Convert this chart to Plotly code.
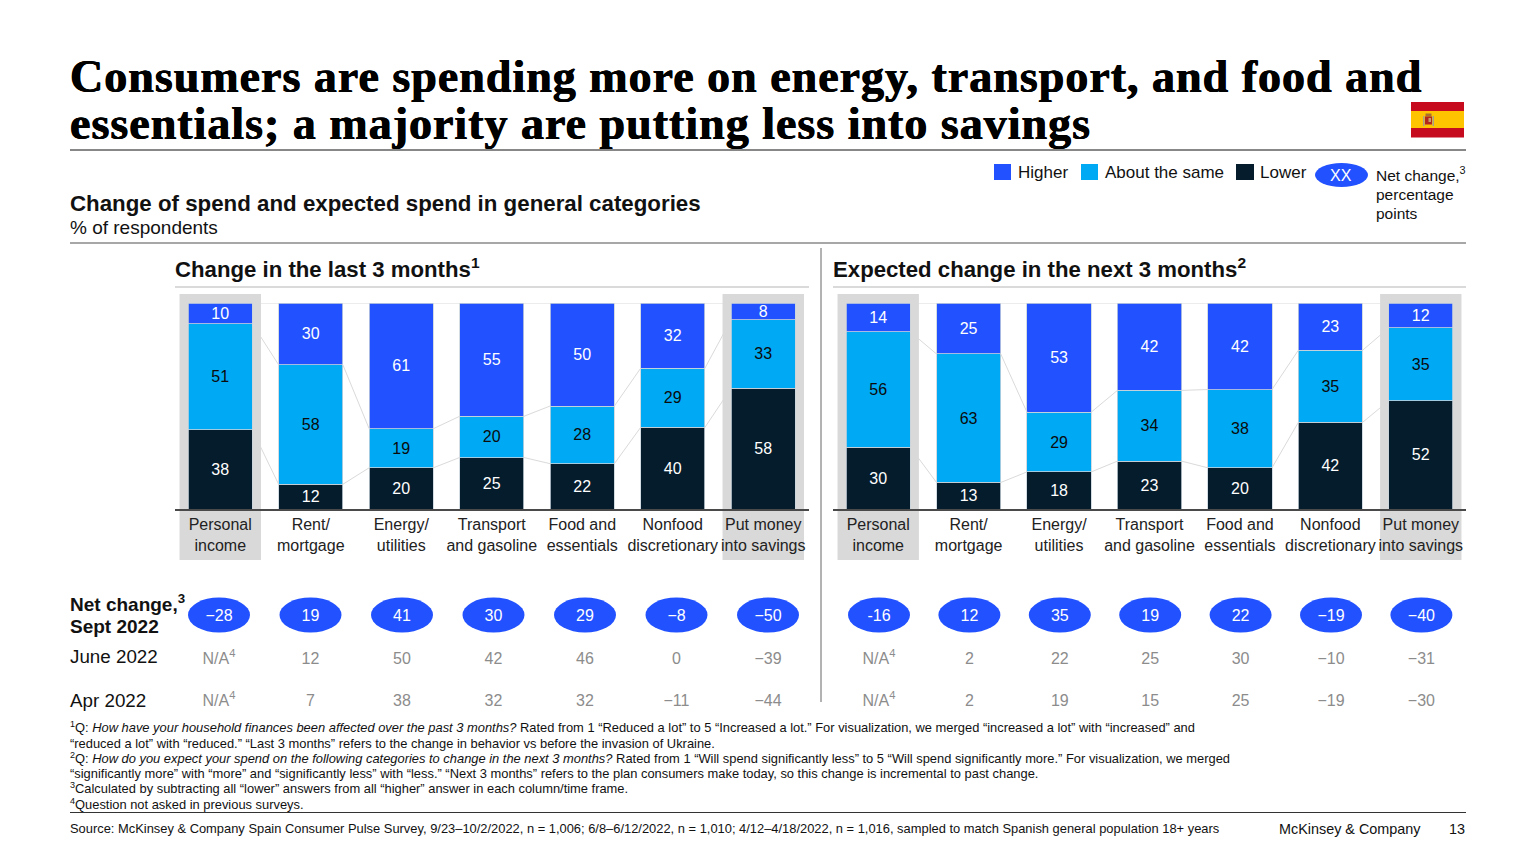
import plotly.graph_objects as go

categories = ["Personal<br>income", "Rent/<br>mortgage", "Energy/<br>utilities", "Transport<br>and gasoline",
              "Food and<br>essentials", "Nonfood<br>discretionary", "Put money<br>into savings"]
last_higher = [10, 30, 61, 55, 50, 32, 8]
last_same = [51, 58, 19, 20, 28, 29, 33]
last_lower = [38, 12, 20, 25, 22, 40, 58]
next_higher = [14, 25, 53, 42, 42, 23, 12]
next_same = [56, 63, 29, 34, 38, 35, 35]
next_lower = [30, 13, 18, 23, 20, 42, 52]
NA = "N/A<sup>4</sup>"
last_sept = ["−28", "19", "41", "30", "29", "−8", "−50"]
last_june = [NA, "12", "50", "42", "46", "0", "−39"]
last_apr = [NA, "7", "38", "32", "32", "−11", "−44"]
next_sept = ["-16", "12", "35", "19", "22", "−19", "−40"]
next_june = [NA, "2", "22", "25", "30", "−10", "−31"]
next_apr = [NA, "2", "19", "15", "25", "−19", "−30"]
title_lines = ["Consumers are spending more on energy, transport, and food and",
               "essentials; a majority are putting less into savings"]
footnotes = [
    "<sup>1</sup>Q: <i>How have your household finances been affected over the past 3 months?</i> Rated from 1 “Reduced a lot” to 5 “Increased a lot.” For visualization, we merged “increased a lot” with “increased” and",
    "“reduced a lot” with “reduced.” “Last 3 months” refers to the change in behavior vs before the invasion of Ukraine.",
    "<sup>2</sup>Q: <i>How do you expect your spend on the following categories to change in the next 3 months?</i> Rated from 1 “Will spend significantly less” to 5 “Will spend significantly more.” For visualization, we merged",
    "“significantly more” with “more” and “significantly less” with “less.” “Next 3 months” refers to the plan consumers make today, so this change is incremental to past change.",
    "<sup>3</sup>Calculated by subtracting all “lower” answers from all “higher” answer in each column/time frame.",
    "<sup>4</sup>Question not asked in previous surveys.",
]
source = "Source: McKinsey & Company Spain Consumer Pulse Survey, 9/23–10/2/2022, n = 1,006; 6/8–6/12/2022, n = 1,010; 4/12–4/18/2022, n = 1,016, sampled to match Spanish general population 18+ years"

BLUE, CYAN, NAVY = "#2251FF", "#00A9F4", "#051C2C"
SANS = "Liberation Sans, Arial, sans-serif"
W, H = 1536, 864
px = lambda v: v / W
py = lambda v: 1 - v / H
idx = list(range(7))
HALF = 0.355

fig = go.Figure()


def panel(xa, ya, higher, same, lower):
    totals = [a + b + c for a, b, c in zip(higher, same, lower)]
    for name, vals, col, tc in [("Lower", lower, NAVY, "white"), ("About the same", same, CYAN, "#0b0b0b"),
                                ("Higher", higher, BLUE, "white")]:
        fig.add_trace(go.Bar(x=idx, y=[v * 100 / t for v, t in zip(vals, totals)], name=name,
                             marker=dict(color=col, line=dict(color="#C9D3DC", width=0.8)),
                             text=[str(v) for v in vals], textposition="inside", insidetextanchor="middle",
                             textangle=0, constraintext="none", cliponaxis=False,
                             textfont=dict(family=SANS, size=16, color=tc), showlegend=False,
                             xaxis=xa, yaxis=ya))
    # connectors between neighbouring bars, on the normalised (percent) scale
    cx, cy = [], []
    for i in range(6):
        ta, tb = totals[i], totals[i + 1]
        for a, b in [(lower[i] * 100 / ta, lower[i + 1] * 100 / tb),
                     ((lower[i] + same[i]) * 100 / ta, (lower[i + 1] + same[i + 1]) * 100 / tb),
                     (100, 100)]:
            cx += [i + HALF, i + 1 - HALF, None]
            cy += [a, b, None]
    fig.add_trace(go.Scatter(x=cx, y=cy, mode="lines", line=dict(color="#DADADA", width=1), showlegend=False,
                             xaxis=xa, yaxis=ya))


panel("x", "y", last_higher, last_same, last_lower)
panel("x2", "y2", next_higher, next_same, next_lower)


def net_rows(xa, ya, sept, june, apr):
    fig.add_trace(go.Scatter(x=idx, y=[0] * 7, mode="text", text=sept, textposition="middle center",
                             textfont=dict(family=SANS, size=16, color="white"), showlegend=False,
                             xaxis=xa, yaxis=ya))
    for r, row in [(1, june), (2, apr)]:
        fig.add_trace(go.Scatter(x=idx, y=[r] * 7, mode="text", text=row, textposition="middle center",
                                 textfont=dict(family=SANS, size=16, color="#8C8C8C"), showlegend=False,
                                 xaxis=xa, yaxis=ya))


net_rows("x3", "y3", last_sept, last_june, last_apr)
net_rows("x4", "y4", next_sept, next_june, next_apr)

shapes = []
# highlight bands
for xr in ("x", "x2"):
    for c in (0, 6):
        shapes.append(dict(type="rect", xref=xr, yref="paper", x0=c - 0.45, x1=c + 0.45, y0=py(560), y1=py(294),
                           fillcolor="#D9D9D9", line_width=0, layer="below"))
# net-change ovals
for xr, yr in (("x3", "y3"), ("x4", "y4")):
    for c in idx:
        shapes.append(dict(type="circle", xref=xr, yref=yr, xsizemode="pixel", ysizemode="pixel", xanchor=c, yanchor=0,
                           x0=-31, x1=31, y0=-15.5, y1=19.5, fillcolor=BLUE, line_width=0, layer="below"))


def hline(y, x0, x1, col, w):
    shapes.append(dict(type="line", xref="paper", yref="paper", x0=px(x0), x1=px(x1), y0=py(y), y1=py(y),
                       line=dict(color=col, width=w)))


hline(150, 70, 1466, "#111111", 1)
hline(243, 70, 1466, "#8A8A8A", 1.5)
hline(287, 175, 809, "#B5B5B5", 1)
hline(287, 833, 1466, "#B5B5B5", 1)
hline(812.5, 70, 1466, "#333333", 1)
shapes.append(dict(type="line", xref="paper", yref="paper", x0=px(821), x1=px(821), y0=py(248), y1=py(702),
                   line=dict(color="#666666", width=1)))


def rect(x0, y0, x1, y1, col):
    shapes.append(dict(type="rect", xref="paper", yref="paper", x0=px(x0), x1=px(x1), y0=py(y1), y1=py(y0),
                       fillcolor=col, line_width=0))


# legend swatches
rect(994, 164, 1011, 180, BLUE)
rect(1081, 164, 1098, 180, CYAN)
rect(1236, 164, 1254, 180, NAVY)
shapes.append(dict(type="circle", xref="paper", yref="paper", x0=px(1315), x1=px(1368), y0=py(187), y1=py(163),
                   fillcolor=BLUE, line_width=0))
# flag
rect(1411, 102, 1464, 111, "#C60B1E")
rect(1411, 111, 1464, 128, "#FFC400")
rect(1411, 128, 1464, 137.5, "#C60B1E")
rect(1423, 116, 1424.5, 126, "#A9A08A")
rect(1432.5, 116, 1434, 126, "#A9A08A")
rect(1425.5, 113.5, 1431.5, 116.5, "#A8702E")
rect(1425, 116.5, 1432, 124.5, "#B3261E")
rect(1428.5, 118, 1431, 122, "#C9A06A")

anns = []


def note(x, y, text, size=16, color="#111111", anchor="left", family=SANS, shadow=None):
    font = dict(family=family, size=size, color=color)
    if shadow:
        font["shadow"] = shadow
    anns.append(dict(xref="paper", yref="paper", x=px(x), y=py(y), text=text, showarrow=False, xanchor=anchor,
                     yanchor="middle", borderpad=0, align="left", font=font))


SERIF = "Liberation Serif, serif"
THICK = "0.5px 0 0 #000, -0.4px 0 0 #000"
note(69, 76, f"<b>{title_lines[0]}</b>", 46, "#000000", family=SERIF, shadow=THICK)
note(69, 124, f"<b>{title_lines[1]}</b>", 46, "#000000", family=SERIF, shadow=THICK)
note(69, 203.5, "<b>Change of spend and expected spend in general categories</b>", 22.3, "#111111")
note(69, 228, "% of respondents", 19)
note(174, 268, "<b>Change in the last 3 months<sup>1</sup></b>", 22.2)
note(832, 268, "<b>Expected change in the next 3 months<sup>2</sup></b>", 22.2)
note(1017, 172, "Higher", 17)
note(1103.5, 172, "About the same", 17)
note(1259, 172, "Lower", 17)
note(1341, 175, "XX", 16, "white", anchor="center")
note(1375, 174, "Net change,<sup>3</sup>", 15.5)
note(1375, 195, "percentage", 15.5)
note(1375, 214, "points", 15.5)
note(69, 602.5, "<b>Net change,<sup>3</sup></b>", 19)
note(69, 626, "<b>Sept 2022</b>", 19)
note(69, 656.5, "June 2022", 18.8)
note(69, 700, "Apr 2022", 18.8)
for y, line in zip([727, 743, 758, 773.5, 788, 803.5], footnotes):
    note(69, y, line, 12.9)
note(69, 828.5, source, 12.9)
note(1277.5, 828.5, "McKinsey & Company", 14.4)
note(1466, 828.5, "13", 14.4, anchor="right")

xcommon = dict(tickmode="array", tickvals=idx, ticktext=categories, tickangle=0, ticks="", showgrid=False,
               zeroline=False, showline=True, linecolor="#4A4A4A", linewidth=1.5, ticklabelstandoff=0,
               tickfont=dict(family=SANS, size=16, color="#222222"))
ycommon = dict(range=[0, 100.001], visible=False, fixedrange=True)
hidden = dict(visible=False, fixedrange=True)

fig.update_layout(
    width=W, height=H, margin=dict(l=0, r=0, t=0, b=0), paper_bgcolor="white", plot_bgcolor="rgba(0,0,0,0)",
    barmode="stack", bargap=0.29, hovermode=False, showlegend=False,
    shapes=shapes, annotations=anns,
    xaxis=dict(domain=[px(175), px(808.5)], range=[-0.5, 6.5], anchor="y", **xcommon),
    yaxis=dict(domain=[py(509), py(303)], anchor="x", **ycommon),
    xaxis2=dict(domain=[px(833), px(1466)], range=[-0.5, 6.5], anchor="y2", **xcommon),
    yaxis2=dict(domain=[py(509), py(303)], anchor="x2", **ycommon),
    xaxis3=dict(domain=[px(173.25), px(813.75)], range=[-0.5, 6.5], anchor="y3", **hidden),
    yaxis3=dict(domain=[py(723.25), py(595.75)], range=[2.5, -0.5], anchor="x3", **hidden),
    xaxis4=dict(domain=[px(833.8), px(1466.6)], range=[-0.5, 6.5], anchor="y4", **hidden),
    yaxis4=dict(domain=[py(723.25), py(595.75)], range=[2.5, -0.5], anchor="x4", **hidden),
)
post = ("document.body.style.margin='0';document.body.style.overflow='hidden';"
        "document.querySelectorAll('.annotation-text').forEach(function(t){"
        "if(t.textContent.startsWith('Consumers')||t.textContent.startsWith('essentials;'))"
        "{t.style.letterSpacing='1px';}});")
fig.write_html("out.html", config=dict(displayModeBar=False), post_script=post)
